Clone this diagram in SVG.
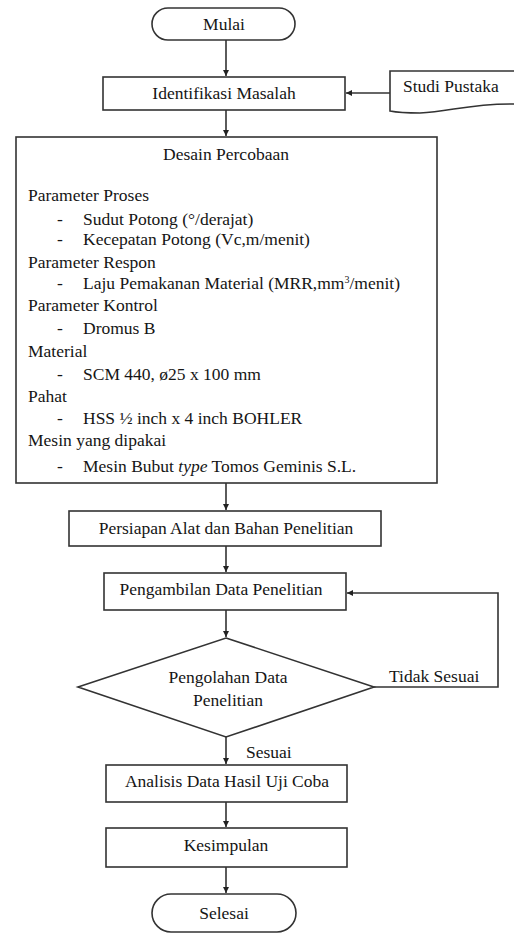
<svg xmlns="http://www.w3.org/2000/svg" width="514" height="934" viewBox="0 0 514 934">
  <defs>
    <marker id="arrow" viewBox="0 0 10 10" refX="10" refY="5" markerWidth="6" markerHeight="6" orient="auto" markerUnits="userSpaceOnUse">
      <path d="M0,0 L10,5 L0,10 z" fill="#222"/>
    </marker>
    <style>
      .shape { fill: #fff; stroke: #333; stroke-width: 1.6; }
      .conn { fill: none; stroke: #333; stroke-width: 1.6; marker-end: url(#arrow); }
      .c { text-anchor: middle; }
    </style>
  </defs>
  <rect width="514" height="934" fill="#fff"/>

  <g font-size="17.5" fill="#151515">

  <!-- connectors -->
  <g id="connectors">
    <line class="conn" x1="226" y1="40" x2="226" y2="76"/>
    <line class="conn" x1="390" y1="93" x2="346" y2="93"/>
    <line class="conn" x1="226" y1="110" x2="226" y2="136"/>
    <line class="conn" x1="226" y1="483" x2="226" y2="510"/>
    <line class="conn" x1="226" y1="546" x2="226" y2="572"/>
    <line class="conn" x1="226" y1="610" x2="226" y2="637"/>
    <polyline class="conn" points="374,687 498,687 498,593 347,593"/>
    <line class="conn" x1="226" y1="737" x2="226" y2="764"/>
    <line class="conn" x1="226" y1="802" x2="226" y2="827"/>
    <line class="conn" x1="226" y1="867" x2="226" y2="893"/>
    <text font-family="Liberation Serif" x="389" y="682">Tidak Sesuai</text>
    <text font-family="Liberation Serif" x="246" y="758">Sesuai</text>
  </g>

  <g id="mulai">
    <rect class="shape" x="152" y="8" width="143" height="32" rx="16" ry="16"/>
    <text font-family="Liberation Serif" class="c" x="224" y="30">Mulai</text>
  </g>

  <g id="studi-pustaka">
    <path class="shape" d="M390,71 L516,71 L516,104 C470,103 450,112 420,113 C405,113 395,112 390,111 Z"/>
    <text font-family="Liberation Serif" x="403" y="92">Studi Pustaka</text>
  </g>

  <g id="identifikasi">
    <rect class="shape" x="103" y="77" width="242" height="33"/>
    <text font-family="Liberation Serif" class="c" x="224" y="99">Identifikasi  Masalah</text>
  </g>

  <g id="desain">
    <rect class="shape" x="16" y="137" width="421" height="346"/>
    <text font-family="Liberation Serif" class="c" x="226" y="160">Desain Percobaan</text>
    <text font-family="Liberation Serif" x="28" y="201">Parameter Proses</text>
    <text font-family="Liberation Serif" x="57" y="225">-</text>
    <text font-family="Liberation Serif" x="83" y="225">Sudut Potong (°/derajat)</text>
    <text font-family="Liberation Serif" x="57" y="245">-</text>
    <text font-family="Liberation Serif" x="83" y="245">Kecepatan  Potong (Vc,m/menit)</text>
    <text font-family="Liberation Serif" x="28" y="268">Parameter Respon</text>
    <text font-family="Liberation Serif" x="57" y="289">-</text>
    <text font-family="Liberation Serif" x="83" y="289">Laju Pemakanan  Material (MRR,mm<tspan font-size="10" dy="-6">3</tspan><tspan dy="6">/menit)</tspan></text>
    <text font-family="Liberation Serif" x="28" y="311">Parameter Kontrol</text>
    <text font-family="Liberation Serif" x="57" y="334">-</text>
    <text font-family="Liberation Serif" x="83" y="334">Dromus B</text>
    <text font-family="Liberation Serif" x="28" y="357">Material</text>
    <text font-family="Liberation Serif" x="57" y="380">-</text>
    <text font-family="Liberation Serif" x="83" y="380">SCM 440, ø25 x 100 mm</text>
    <text font-family="Liberation Serif" x="28" y="402">Pahat</text>
    <text font-family="Liberation Serif" x="57" y="424">-</text>
    <text font-family="Liberation Serif" x="83" y="424">HSS ½ inch x 4 inch BOHLER</text>
    <text font-family="Liberation Serif" x="28" y="446">Mesin yang dipakai</text>
    <text font-family="Liberation Serif" x="57" y="472">-</text>
    <text font-family="Liberation Serif" x="83" y="472">Mesin Bubut <tspan font-style="italic">type</tspan> Tomos  Geminis  S.L.</text>
  </g>

  <g id="persiapan">
    <rect class="shape" x="69" y="511" width="312" height="35"/>
    <text font-family="Liberation Serif" class="c" x="226" y="534">Persiapan Alat dan Bahan Penelitian</text>
  </g>

  <g id="pengambilan">
    <rect class="shape" x="104" y="573" width="242" height="37"/>
    <text font-family="Liberation Serif" class="c" x="221" y="595">Pengambilan Data Penelitian</text>
  </g>

  <g id="pengolahan">
    <polygon class="shape" points="226,638 374,687 226,737 78,687"/>
    <text font-family="Liberation Serif" class="c" x="228" y="683">Pengolahan Data</text>
    <text font-family="Liberation Serif" class="c" x="228" y="706">Penelitian</text>
  </g>

  <g id="analisis">
    <rect class="shape" x="106" y="765" width="241" height="37"/>
    <text font-family="Liberation Serif" class="c" x="227" y="787">Analisis Data Hasil Uji Coba</text>
  </g>

  <g id="kesimpulan">
    <rect class="shape" x="106" y="828" width="241" height="39"/>
    <text font-family="Liberation Serif" class="c" x="226" y="851">Kesimpulan</text>
  </g>

  <g id="selesai">
    <rect class="shape" x="152" y="894" width="144" height="38" rx="19" ry="19"/>
    <text font-family="Liberation Serif" class="c" x="224" y="919">Selesai</text>
  </g>

  </g>
</svg>
